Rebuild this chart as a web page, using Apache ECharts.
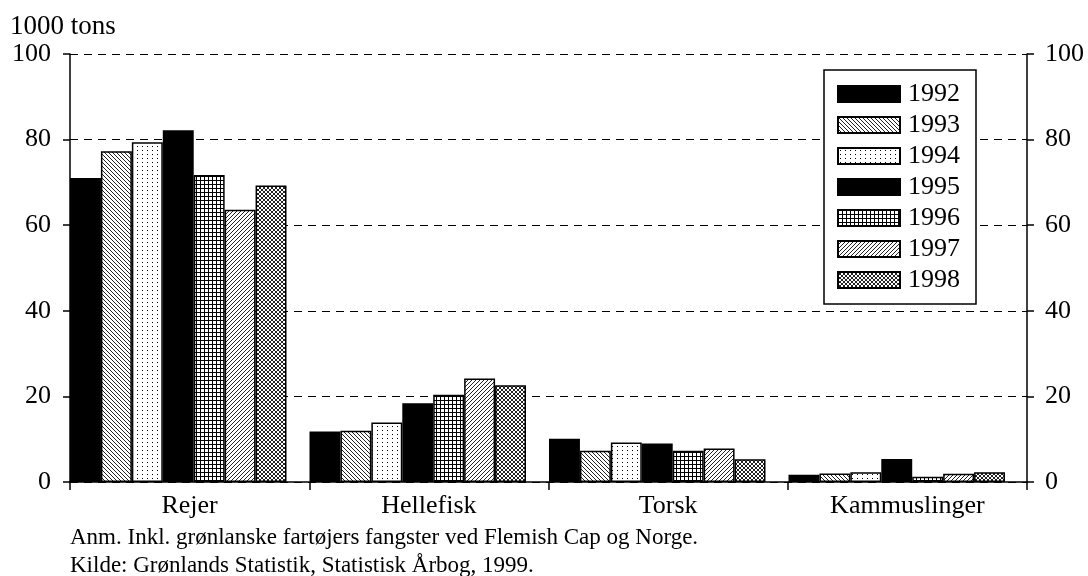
<!DOCTYPE html>
<html>
<head>
<meta charset="utf-8">
<title>Fangst</title>
<script src="https://cdn.jsdelivr.net/npm/echarts@6/dist/echarts.min.js"></script>
<style>
  html, body { margin: 0; padding: 0; background: #fff; }
  #main { width: 1088px; height: 576px; }
</style>
</head>
<body>
<div id="main"></div>
<script>
// data (1000 tons)
var categories = ['Rejer', 'Hellefisk', 'Torsk', 'Kammuslinger'];
var years = ['1992', '1993', '1994', '1995', '1996', '1997', '1998'];
var v1992 = [71.0, 11.8, 10.1, 1.7];
var v1993 = [77.3, 12.0, 7.3, 2.0];
var v1994 = [79.4, 13.9, 9.2, 2.3];
var v1995 = [82.2, 18.4, 9.0, 5.4];
var v1996 = [71.7, 20.4, 7.3, 1.2];
var v1997 = [63.6, 24.2, 7.8, 1.9];
var v1998 = [69.3, 22.6, 5.3, 2.3];
var values = [v1992, v1993, v1994, v1995, v1996, v1997, v1998];

var FONT = '"Liberation Serif", "Times New Roman", serif';

// small canvas tiles used as fill patterns
function tile(w, h, draw) {
    var c = document.createElement('canvas');
    c.width = w; c.height = h;
    var g = c.getContext('2d');
    g.fillStyle = '#fff';
    g.fillRect(0, 0, w, h);
    g.strokeStyle = '#222';
    g.fillStyle = '#000';
    g.lineWidth = 1;
    draw(g, w, h);
    return { image: c, repeat: 'repeat' };
}
function back(g, s) { // "\" lines
    g.beginPath();
    g.moveTo(-1, -1); g.lineTo(s + 1, s + 1);
    g.moveTo(-1, s - 1); g.lineTo(1, s + 1);
    g.moveTo(s - 1, -1); g.lineTo(s + 1, 1);
    g.stroke();
}
function fwd(g, s) { // "/" lines
    g.beginPath();
    g.moveTo(-1, s + 1); g.lineTo(s + 1, -1);
    g.moveTo(-1, 1); g.lineTo(1, -1);
    g.moveTo(s - 1, s + 1); g.lineTo(s + 1, s - 1);
    g.stroke();
}

var fills = [
    '#000',
    tile(4, 4, function (g, w) { back(g, w); }),
    tile(5, 4, function (g) { g.fillRect(2, 2, 1, 1); }),
    '#000',
    tile(4, 4, function (g, w, h) {
        g.fillRect(0, 0, w, 1);
        g.fillRect(0, 0, 1, h);
    }),
    tile(4, 4, function (g, w) { fwd(g, w); }),
    tile(4, 4, function (g, w) { back(g, w); fwd(g, w); })
];

var series = years.map(function (y, i) {
    return {
        name: y,
        type: 'bar',
        xAxisIndex: 1,
        yAxisIndex: 2,
        barGap: '0%',
        barCategoryGap: '9.6%',
        itemStyle: { color: fills[i], borderColor: '#000', borderWidth: 1.5 },
        data: values[i]
    };
});

var chart = echarts.init(document.getElementById('main'));
chart.setOption({
    backgroundColor: '#fff',
    animation: false,
    textStyle: { fontFamily: FONT, color: '#000' },
    grid: [
        { left: 70, right: 61, top: 54, bottom: 94 },
        { left: 58.5, right: 71.5, top: 54, bottom: 94 }
    ],
    legend: {
        orient: 'vertical',
        left: 824,
        top: 70,
        padding: [11, 16, 11, 13],
        icon: 'rect',
        itemWidth: 62,
        itemHeight: 16,
        itemGap: 5,
        borderColor: '#000',
        borderWidth: 1.5,
        backgroundColor: '#fff',
        textStyle: { fontFamily: FONT, fontSize: 26, color: '#000', lineHeight: 26, padding: [0, 0, 0, 3] },
        data: years
    },
    xAxis: [
        {
            type: 'category',
            gridIndex: 0,
            data: categories,
            axisLine: { lineStyle: { color: '#000', width: 1.5 } },
            axisTick: { show: true, length: 8, lineStyle: { color: '#000', width: 1.5 } },
            axisLabel: { fontFamily: FONT, fontSize: 26, color: '#000', margin: 11 }
        },
        {
            type: 'category',
            gridIndex: 1,
            data: categories,
            show: false
        }
    ],
    yAxis: [
        {
            type: 'value',
            gridIndex: 0,
            min: 0, max: 100, interval: 20,
            name: '1000 tons',
            nameLocation: 'end',
            nameGap: 14,
            nameTextStyle: { fontFamily: FONT, fontSize: 27, color: '#000', align: 'left', padding: [0, 0, 0, -60] },
            axisLine: { show: true, lineStyle: { color: '#000', width: 1.5 } },
            axisTick: { show: true, length: 7, lineStyle: { color: '#000', width: 1.5 } },
            axisLabel: { fontFamily: FONT, fontSize: 26, color: '#000', margin: 19 },
            splitLine: { show: true, lineStyle: { color: '#000', type: [8, 6], width: 1.2 } }
        },
        {
            type: 'value',
            gridIndex: 0,
            position: 'right',
            min: 0, max: 100, interval: 20,
            axisLine: { show: true, lineStyle: { color: '#000', width: 1.5 } },
            axisTick: { show: true, length: 7, lineStyle: { color: '#000', width: 1.5 } },
            axisLabel: { fontFamily: FONT, fontSize: 26, color: '#000', margin: 18 },
            splitLine: { show: false }
        },
        {
            type: 'value',
            gridIndex: 1,
            min: 0, max: 100, interval: 20,
            show: false,
            splitLine: { show: false }
        }
    ],
    graphic: [
        {
            type: 'text', left: 70, top: 526,
            style: { text: 'Anm. Inkl. grønlanske fartøjers fangster ved Flemish Cap og Norge.', font: '23px ' + FONT, fill: '#000' }
        },
        {
            type: 'text', left: 70, top: 554,
            style: { text: 'Kilde: Grønlands Statistik, Statistisk Årbog, 1999.', font: '23px ' + FONT, fill: '#000' }
        }
    ],
    series: series
});
</script>
</body>
</html>
